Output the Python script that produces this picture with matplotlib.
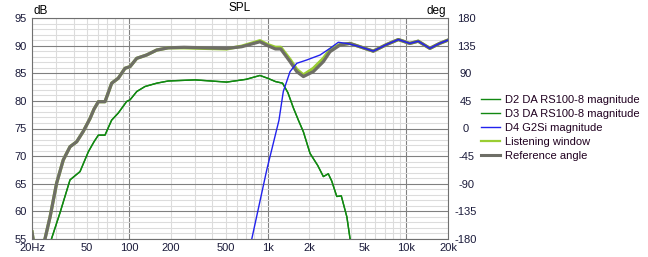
import matplotlib
matplotlib.use("Agg")
import matplotlib.pyplot as plt
from matplotlib.lines import Line2D
from matplotlib.ticker import FixedLocator, NullFormatter

plt.rcParams['font.family'] = ['Liberation Sans', 'DejaVu Sans']

# Reference angle / listening window (dB)
freq_ref = [20, 20.8, 22.5, 24.8, 27, 30.1, 33.6, 37.6, 42, 46.9, 52.4, 56, 60.2, 67.2,
            75.1, 83.8, 93.7, 101.9, 113.8, 134, 158.6, 192, 250, 350, 507, 650, 881,
            1000, 1139, 1243, 1452, 1623, 1812, 2139, 2524, 2818, 3326, 3929, 4630,
            5780, 7220, 8770, 10600, 12200, 14800, 17400, 20000]
spl_ref = [56.3, 53.5, 52.5, 55, 59.0, 65.1, 69.3, 71.7, 72.6, 74.5, 76.8, 78.5, 79.85, 79.85,
           83.2, 84.1, 85.9, 86.2, 87.7, 88.3, 89.2, 89.6, 89.7, 89.6, 89.5, 89.8, 90.7,
           90.0, 89.4, 89.4, 87.1, 85.3, 84.4, 85.3, 87.1, 88.9, 90.1, 90.4, 89.8,
           89.0, 90.2, 91.1, 90.4, 90.8, 89.5, 90.4, 91.0]
spl_lw = [56.3, 53.5, 52.5, 55, 59.0, 65.1, 69.3, 71.7, 72.6, 74.5, 76.8, 78.5, 79.85, 79.85,
          83.2, 84.1, 85.9, 86.2, 87.7, 88.3, 89.2, 89.6, 89.6, 89.5, 89.4, 89.9, 90.9,
          90.2, 89.7, 89.7, 87.5, 85.7, 84.7, 85.9, 87.7, 89.3, 90.2, 90.4, 89.8,
          89.0, 90.2, 91.1, 90.4, 90.8, 89.5, 90.4, 91.0]

# Woofers D2 / D3
freq_woof = [25, 27.7, 31.8, 37.6, 44.4, 51, 56, 60.2, 67.2, 75, 83.8, 96.4, 102, 114,
             130.6, 158.6, 192, 300, 507, 700, 881, 1000, 1139, 1282, 1400, 1536, 1668,
             1812, 2023, 2300, 2524, 2740, 2900, 3155, 3400, 3730, 3930, 4200]
spl_d2 = [51.5, 55.1, 59.7, 65.7, 67.2, 70.8, 72.6, 73.8, 73.8, 76.5, 77.8, 79.9, 80.2, 81.7,
          82.6, 83.2, 83.6, 83.8, 83.4, 83.9, 84.6, 84.1, 83.5, 83.2, 81.5, 78.7, 76.5,
          74.4, 70.5, 68.3, 66.3, 66.8, 65.5, 62.7, 62.8, 59.0, 55.1, 52]
spl_d3 = list(spl_d2)

# Tweeter D4
freq_tw = [720, 769, 986, 1208, 1298, 1452, 1623, 1915, 2388, 2818, 3234, 3730, 4630,
           5780, 7220, 8770, 10600, 12200, 14800, 17400, 20000]
spl_d4 = [52, 55, 67.5, 76.5, 81.7, 85.3, 86.8, 87.4, 88.3, 89.5, 90.6, 90.4, 89.8,
          89.0, 90.2, 91.1, 90.4, 90.8, 89.5, 90.4, 91.0]

x_ticks = [20, 50, 100, 200, 500, 1000, 2000, 5000, 10000, 20000]
x_labels = ['20Hz', '50', '100', '200', '500', '1k', '2k', '5k', '10k', '20k']
db_ticks = [55, 60, 65, 70, 75, 80, 85, 90, 95]
deg_ticks = [-180, -135, -90, -45, 0, 45, 90, 135, 180]

W, H = 648, 257
fig = plt.figure(figsize=(W / 100, H / 100), dpi=100)
ax = fig.add_axes([32 / W, 1 - 239 / H, 416 / W, 221 / H])
ax.set_xscale('log')
ax.set_xlim(20, 20000)
ax.set_ylim(55, 95)

label_col = '#1a1a3a'
minor_x = [f for dec in (10, 100, 1000, 10000) for f in [dec * k for k in range(2, 10)]
           if 20 <= f <= 20000 and f not in (100, 1000, 10000)]
ax.xaxis.set_major_locator(FixedLocator([100, 1000, 10000]))
ax.xaxis.set_minor_locator(FixedLocator(minor_x))
ax.xaxis.set_major_formatter(NullFormatter())
ax.xaxis.set_minor_formatter(NullFormatter())
ax.yaxis.set_major_locator(FixedLocator(db_ticks))
ax.yaxis.set_minor_locator(FixedLocator(list(range(55, 96))))
ax.grid(which='minor', color='#dcdcdc', linewidth=0.8)
ax.grid(which='major', color='#808080', linewidth=0.8)
ax.set_axisbelow(True)
ax.tick_params(which='both', length=0)
ax.set_yticklabels([str(v) for v in db_ticks], fontsize=8, color=label_col)
ax.tick_params(axis='y', pad=4)
for f, lab in zip(x_ticks, x_labels):
    ax.text(f, -0.02, lab, transform=ax.get_xaxis_transform(), ha='center', va='top',
            fontsize=8, color=label_col)
for s in ax.spines.values():
    s.set_color('#707070')
    s.set_linewidth(0.8)

ax2 = ax.twinx()
ax2.set_ylim(-180, 180)
ax2.set_yticks(deg_ticks)
ax2.set_yticklabels([str(v) for v in deg_ticks], fontsize=8, color=label_col, ha='center')
ax2.tick_params(length=0, pad=13)
for s in ax2.spines.values():
    s.set_visible(False)

ax.plot(freq_ref, spl_lw, color='#9acd32', lw=2.3, zorder=3)
ax.plot(freq_ref, spl_ref, color='#6e6e66', lw=2.3, zorder=4)
ax.plot(freq_woof, spl_d2, color='#118811', lw=1.0, zorder=5)
ax.plot(freq_woof, spl_d3, color='#118811', lw=1.0, zorder=5)
ax.plot(freq_tw, spl_d4, color='#2222ee', lw=1.0, zorder=6)

fig.text(33 / W, 1 - 11 / H, 'dB', fontsize=8.5, color='black', va='center', ha='left')
fig.text(240 / W, 1 - 8 / H, 'SPL', fontsize=8.5, color='black', va='center', ha='center')
fig.text(446 / W, 1 - 11 / H, 'deg', fontsize=8.5, color='black', va='center', ha='right')

legend_labels = ['D2 DA RS100-8 magnitude', 'D3 DA RS100-8 magnitude', 'D4 G2Si magnitude',
                 'Listening window', 'Reference angle']
legend_handles = [Line2D([], [], color='#118811', lw=1.0),
                  Line2D([], [], color='#118811', lw=1.0),
                  Line2D([], [], color='#2222ee', lw=1.0),
                  Line2D([], [], color='#9acd32', lw=1.6),
                  Line2D([], [], color='#6e6e66', lw=2.2)]
leg = fig.legend(legend_handles, legend_labels, loc='upper left',
                 bbox_to_anchor=(481 / W, 1 - 95 / H),
                 frameon=False, fontsize=8, handlelength=1.75, handletextpad=0.45,
                 labelspacing=0.36, borderaxespad=0, borderpad=0)
for t in leg.get_texts():
    t.set_color('#200020')

fig.savefig('out.png', dpi=100)
